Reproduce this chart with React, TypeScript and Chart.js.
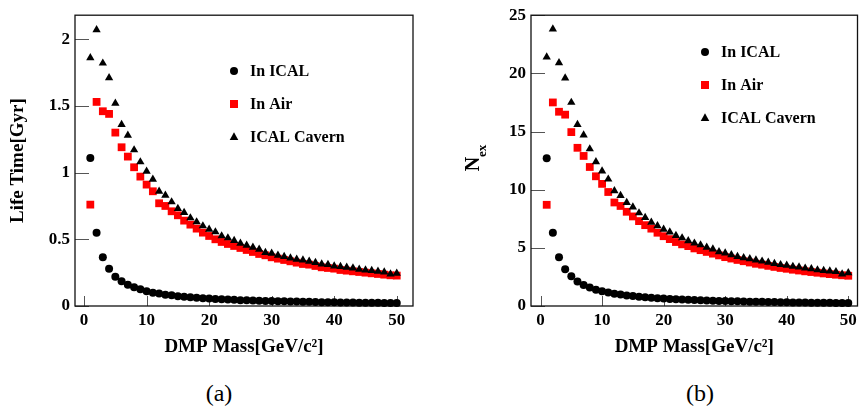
import React, { useEffect, useRef } from 'react';
import { Chart, registerables } from 'chart.js';
Chart.register(...registerables);

const masses = [1, 2, 3, 4, 5, 6, 7, 8, 9, 10, 11, 12, 13, 14, 15, 16, 17, 18, 19, 20, 21, 22, 23, 24, 25, 26, 27, 28, 29, 30, 31, 32, 33, 34, 35, 36, 37, 38, 39, 40, 41, 42, 43, 44, 45, 46, 47, 48, 49, 50];

const lifeIcal = [1.11, 0.55, 0.365, 0.28, 0.22, 0.185, 0.16, 0.14, 0.125, 0.11,
  0.10, 0.093, 0.085, 0.080, 0.074, 0.069, 0.066, 0.062, 0.058, 0.056,
  0.053, 0.050, 0.048, 0.046, 0.044, 0.043, 0.041, 0.040, 0.038, 0.037,
  0.036, 0.035, 0.034, 0.033, 0.032, 0.031, 0.030, 0.029, 0.0285, 0.028,
  0.027, 0.026, 0.026, 0.025, 0.025, 0.024, 0.024, 0.023, 0.023, 0.022];
const lifeAir = [0.76, 1.53, 1.46, 1.44, 1.30, 1.19, 1.12, 1.04, 0.97, 0.91,
  0.86, 0.77, 0.75, 0.71, 0.68, 0.64, 0.61, 0.58, 0.55, 0.525,
  0.50, 0.48, 0.465, 0.45, 0.435, 0.42, 0.405, 0.39, 0.38, 0.365,
  0.355, 0.345, 0.335, 0.325, 0.315, 0.31, 0.30, 0.29, 0.285, 0.28,
  0.27, 0.265, 0.26, 0.255, 0.25, 0.245, 0.24, 0.235, 0.23, 0.228];
const lifeCavern = [1.86, 2.07, 1.82, 1.71, 1.52, 1.36, 1.28, 1.17, 1.08, 1.01,
  0.95, 0.86, 0.83, 0.78, 0.73, 0.70, 0.66, 0.63, 0.60, 0.575,
  0.555, 0.525, 0.51, 0.49, 0.47, 0.455, 0.44, 0.425, 0.40, 0.395,
  0.38, 0.37, 0.36, 0.35, 0.345, 0.335, 0.325, 0.315, 0.31, 0.30,
  0.295, 0.29, 0.285, 0.275, 0.27, 0.265, 0.26, 0.255, 0.24, 0.245];

const nexIcal = [12.7, 6.3, 4.2, 3.15, 2.55, 2.1, 1.8, 1.58, 1.4, 1.27,
  1.15, 1.06, 0.98, 0.91, 0.85, 0.79, 0.75, 0.71, 0.67, 0.64,
  0.61, 0.58, 0.55, 0.53, 0.51, 0.49, 0.47, 0.45, 0.44, 0.42,
  0.41, 0.40, 0.385, 0.375, 0.365, 0.355, 0.345, 0.335, 0.325, 0.32,
  0.31, 0.30, 0.295, 0.29, 0.28, 0.275, 0.27, 0.265, 0.26, 0.255];
const nexAir = [8.7, 17.5, 16.7, 16.45, 14.95, 13.6, 12.9, 11.95, 11.15, 10.5,
  9.8, 8.9, 8.6, 8.1, 7.7, 7.3, 6.95, 6.65, 6.3, 6.0,
  5.75, 5.5, 5.3, 5.15, 4.95, 4.8, 4.65, 4.5, 4.35, 4.2,
  4.08, 3.96, 3.85, 3.74, 3.63, 3.55, 3.45, 3.36, 3.27, 3.2,
  3.12, 3.05, 2.98, 2.92, 2.86, 2.8, 2.74, 2.69, 2.64, 2.6];
const nexCavern = [21.4, 23.8, 20.9, 19.6, 17.5, 15.6, 14.7, 13.5, 12.4, 11.6,
  10.9, 9.9, 9.5, 8.9, 8.5, 8.0, 7.6, 7.2, 6.9, 6.6,
  6.35, 6.05, 5.85, 5.6, 5.4, 5.25, 5.05, 4.9, 4.65, 4.55,
  4.4, 4.25, 4.15, 4.05, 3.95, 3.85, 3.75, 3.65, 3.55, 3.5,
  3.4, 3.35, 3.25, 3.2, 3.1, 3.05, 3.0, 2.95, 2.75, 2.85];

const seriesLabels = ['In ICAL', 'In Air', 'ICAL Cavern'];
const xTickValues = [0, 10, 20, 30, 40, 50];
const lifeTickValues = [0, 0.5, 1, 1.5, 2];
const nexTickValues = [0, 5, 10, 15, 20, 25];
const xTitle = 'DMP Mass[GeV/c²]';
const lifeTitle = 'Life Time[Gyr]';
const nexTitleMain = 'N';
const nexTitleSub = 'ex';

const SERIF = '"Liberation Serif", "Times New Roman", serif';

function drawMarker(ctx: CanvasRenderingContext2D, style: string, x: number, y: number, color: string) {
  ctx.fillStyle = color;
  ctx.beginPath();
  if (style === 'circle') {
    ctx.arc(x, y, 4, 0, Math.PI * 2);
  } else if (style === 'rect') {
    ctx.rect(x - 4, y - 4, 8, 8);
  } else {
    ctx.moveTo(x, y - 4.8);
    ctx.lineTo(x + 4.3, y + 3);
    ctx.lineTo(x - 4.3, y + 3);
    ctx.closePath();
  }
  ctx.fill();
}

const rootPlugin = {
  id: 'rootStyle',
  beforeDatasetsDraw(chart: any) {
    const { ctx, chartArea: a, scales } = chart;
    const x = scales.x, y = scales.y;
    ctx.save();
    ctx.strokeStyle = '#555';
    ctx.lineWidth = 1;
    x.ticks.forEach((t: any) => {
      const px = Math.round(x.getPixelForValue(t.value)) + 0.5;
      ctx.beginPath(); ctx.moveTo(px, a.bottom); ctx.lineTo(px, a.bottom - 10); ctx.stroke();
    });
    y.ticks.forEach((t: any) => {
      const py = Math.round(y.getPixelForValue(t.value)) + 0.5;
      ctx.beginPath(); ctx.moveTo(a.left, py); ctx.lineTo(a.left + 14, py); ctx.stroke();
    });
    ctx.strokeStyle = '#111';
    ctx.lineWidth = 1.3;
    ctx.strokeRect(a.left, a.top, a.right - a.left, a.bottom - a.top);
    ctx.restore();
  },
  afterDraw(chart: any, _args: any, opts: any) {
    const { ctx } = chart;
    ctx.save();
    ctx.font = `bold 16px ${SERIF}`;
    ctx.textBaseline = 'middle';
    chart.data.datasets.forEach((ds: any, i: number) => {
      const my = opts.legendY + i * opts.legendGap;
      drawMarker(ctx, ds.pointStyle, opts.legendX, my, ds.backgroundColor);
      ctx.fillStyle = '#000';
      ctx.fillText(ds.label, opts.legendX + 16, my + 1);
    });
    if (opts.subTitle) {
      ctx.translate(opts.subTitle.x, opts.subTitle.y);
      ctx.rotate(-Math.PI / 2);
      ctx.textBaseline = 'alphabetic';
      ctx.font = `bold 20px ${SERIF}`;
      const wN = ctx.measureText(nexTitleMain).width;
      ctx.font = `bold 13px ${SERIF}`;
      const wS = ctx.measureText(nexTitleSub).width;
      const start = -(wN + wS) / 2;
      ctx.font = `bold 20px ${SERIF}`;
      ctx.fillText(nexTitleMain, start, 0);
      ctx.font = `bold 13px ${SERIF}`;
      ctx.fillText(nexTitleSub, start + wN, 7);
    }
    ctx.restore();
  },
};

type PanelProps = {
  left: number; width: number; yWidth: number; padRight: number;
  xMin: number; xMax: number; yMax: number;
  ical: number[]; air: number[]; cavern: number[];
  yTicks: number[]; yTitle: string | null;
  legendX: number; legendY: number;
  subTitle: { x: number; y: number } | null;
};

const H = 365;

function Panel(p: PanelProps) {
  const ref = useRef<HTMLCanvasElement>(null);
  useEffect(() => {
    if (!ref.current) return;
    const mk = (vals: number[]) => masses.map((m, i) => ({ x: m, y: vals[i] }));
    const tickFont = { family: SERIF, size: 17, weight: 'bold' as const };
    const chart = new Chart(ref.current, {
      type: 'scatter',
      data: {
        datasets: [
          { label: seriesLabels[0], data: mk(p.ical), pointStyle: 'circle', pointRadius: 4, backgroundColor: '#000', borderColor: '#000', borderWidth: 0, order: 2 },
          { label: seriesLabels[1], data: mk(p.air), pointStyle: 'rect', pointRadius: 5.5, backgroundColor: '#ff0000', borderColor: '#ff0000', borderWidth: 0, order: 1 },
          { label: seriesLabels[2], data: mk(p.cavern), pointStyle: 'triangle', pointRadius: 4.8, backgroundColor: '#000', borderColor: '#000', borderWidth: 0, order: 0 },
        ] as any,
      },
      options: {
        animation: false,
        responsive: false,
        clip: false as any,
        layout: { padding: { top: 10, right: p.padRight, left: 0, bottom: 0 } },
        plugins: {
          legend: { display: false },
          tooltip: { enabled: false },
          rootStyle: { legendX: p.legendX, legendY: p.legendY, legendGap: 33, subTitle: p.subTitle },
        } as any,
        scales: {
          x: {
            type: 'linear', min: p.xMin, max: p.xMax,
            afterBuildTicks: (s: any) => { s.ticks = xTickValues.map((v) => ({ value: v })); },
            afterFit: (s: any) => { s.height = H - 306; },
            grid: { display: false, drawTicks: false },
            border: { display: false },
            ticks: { font: tickFont, color: '#000', padding: 4, maxRotation: 0, autoSkip: false, callback: (v: any) => String(v) },
            title: { display: true, text: xTitle, color: '#000', font: { family: SERIF, size: 19, weight: 'bold' }, padding: { top: 0, bottom: 7 } },
          },
          y: {
            type: 'linear', min: 0, max: p.yMax,
            afterBuildTicks: (s: any) => { s.ticks = p.yTicks.map((v) => ({ value: v })); },
            afterFit: (s: any) => { s.width = p.yWidth; },
            grid: { display: false, drawTicks: false },
            border: { display: false },
            ticks: { font: tickFont, color: '#000', padding: 5, autoSkip: false, callback: (v: any) => String(v) },
            title: { display: !!p.yTitle, text: p.yTitle || '', color: '#000', font: { family: SERIF, size: 19, weight: 'bold' }, padding: { top: 7, bottom: 0 } },
          },
        },
      } as any,
      plugins: [rootPlugin],
    });
    return () => chart.destroy();
  }, []);
  return (
    <canvas ref={ref} width={p.width} height={H}
      style={{ position: 'absolute', left: p.left, top: 0, width: p.width, height: H, display: 'block' }} />
  );
}

export default function App() {
  const capStyle = (cx: number): React.CSSProperties => ({
    position: 'absolute', left: cx - 50, width: 100, top: 379, height: 28, lineHeight: '28px',
    textAlign: 'center', fontFamily: SERIF, fontSize: 24, color: '#000',
  });
  return (
    <div style={{ position: 'absolute', left: 0, top: 0, width: 863, height: 410, background: '#fff', overflow: 'hidden' }}>
      <Panel left={0} width={430} yWidth={75} padRight={17} xMin={-1.45} xMax={52.6} yMax={2.18}
        ical={lifeIcal} air={lifeAir} cavern={lifeCavern} yTicks={lifeTickValues} yTitle={lifeTitle}
        legendX={234} legendY={71} subTitle={null} />
      <Panel left={430} width={433} yWidth={101} padRight={1} xMin={-1.55} xMax={51.5} yMax={25}
        ical={nexIcal} air={nexAir} cavern={nexCavern} yTicks={nexTickValues} yTitle={null}
        legendX={275} legendY={52} subTitle={{ x: 49, y: 158 }} />
      <div style={capStyle(219)}>(a)</div>
      <div style={capStyle(700)}>(b)</div>
    </div>
  );
}
